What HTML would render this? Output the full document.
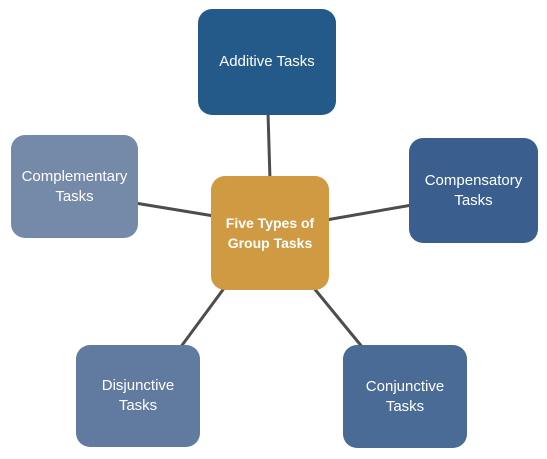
<!DOCTYPE html>
<html><head><style>
body{margin:0;width:547px;height:459px;background:#fff;position:relative;overflow:hidden;font-family:"Liberation Sans","DejaVu Sans",sans-serif;}
.b{position:absolute;border-radius:14px;color:#fff;display:flex;align-items:center;justify-content:center;text-align:center;font-size:15px;line-height:20px;}
svg{position:absolute;left:0;top:0}
</style></head><body>
<svg width="547" height="459"><g stroke="#4d4d4d" stroke-width="3">
<line x1="270" y1="180" x2="268" y2="112"/>
<line x1="214" y1="216" x2="135" y2="203"/>
<line x1="326" y1="220" x2="412" y2="205"/>
<line x1="225" y1="287" x2="180" y2="348"/>
<line x1="313" y1="287" x2="363" y2="348"/>
</g></svg>
<div class="b" style="left:198px;top:9px;width:138px;height:106px;background:#235a8a">Additive Tasks</div>
<div class="b" style="left:11px;top:135px;width:127px;height:103px;background:#7589a8">Complementary<br>Tasks</div>
<div class="b" style="left:211px;top:176px;width:118px;height:114px;background:#d09a43;font-weight:bold;font-size:14px">Five Types of<br>Group Tasks</div>
<div class="b" style="left:409px;top:138px;width:129px;height:105px;background:#3a5f8e">Compensatory<br>Tasks</div>
<div class="b" style="left:76px;top:345px;width:124px;height:102px;background:#607aa0">Disjunctive<br>Tasks</div>
<div class="b" style="left:343px;top:345px;width:124px;height:103px;background:#4a6b95">Conjunctive<br>Tasks</div>
</body></html>
